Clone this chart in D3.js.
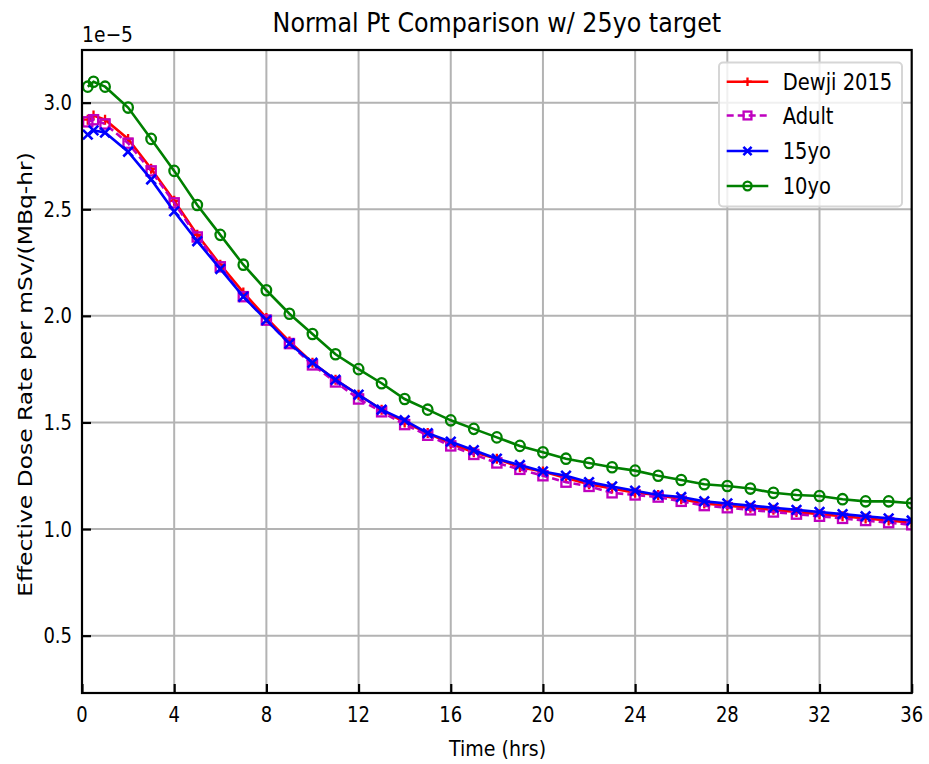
<!DOCTYPE html>
<html><head><meta charset="utf-8">
<script src="https://cdn.jsdelivr.net/npm/d3@7"></script>
<style>
body{margin:0;background:#fff;}
text{font-family:"DejaVu Sans",sans-serif;fill:#000;}
</style></head>
<body><div id="chart"></div>
<script>
const times = [0.25,0.5,1,2,3,4,5,6,7,8,9,10,11,12,13,14,15,16,17,18,19,20,21,22,23,24,25,26,27,28,29,30,31,32,33,34,35,36];
const dewji = [2.92,2.94,2.92,2.83,2.69,2.54,2.38,2.24,2.11,1.99,1.88,1.78,1.70,1.63,1.56,1.50,1.45,1.40,1.36,1.33,1.29,1.27,1.24,1.21,1.19,1.17,1.16,1.14,1.12,1.11,1.10,1.09,1.08,1.07,1.06,1.05,1.04,1.03];
const adult = [2.91,2.92,2.90,2.81,2.68,2.53,2.37,2.23,2.09,1.98,1.87,1.77,1.69,1.61,1.55,1.49,1.44,1.39,1.35,1.31,1.28,1.25,1.22,1.20,1.17,1.16,1.15,1.13,1.11,1.10,1.09,1.08,1.07,1.06,1.05,1.04,1.03,1.02];
const yo15 = [2.85,2.87,2.86,2.77,2.64,2.49,2.35,2.22,2.09,1.98,1.87,1.78,1.70,1.63,1.56,1.51,1.45,1.41,1.37,1.33,1.30,1.27,1.25,1.22,1.20,1.18,1.16,1.15,1.13,1.12,1.11,1.10,1.09,1.08,1.07,1.06,1.05,1.04];
const yo10 = [3.075,3.098,3.075,2.977,2.83,2.68,2.52,2.38,2.24,2.12,2.01,1.915,1.82,1.75,1.684,1.61,1.56,1.51,1.47,1.43,1.39,1.36,1.33,1.31,1.29,1.274,1.25,1.23,1.21,1.202,1.19,1.17,1.16,1.155,1.14,1.13,1.13,1.121];
const seriesNames = ["Dewji 2015","Adult","15yo","10yo"];
const seriesColors = ["#ff0000","#bf00bf","#0000ff","#008000"];
const seriesMarkers = ["plus","square","x","circle"];
const seriesDash = [null,"7,4",null,null];
const xTicks = [0,4,8,12,16,20,24,28,32,36];
const yTicks = [0.5,1.0,1.5,2.0,2.5,3.0];

const W=929,H=764;
const m={left:82,right:W-911.7,top:50,bottom:H-693};
const svg=d3.select("#chart").append("svg").attr("width",W).attr("height",H);
const x=d3.scaleLinear().domain([0,36]).range([m.left,W-m.right]);
const y=d3.scaleLinear().domain([0.231,3.247]).range([H-m.bottom,m.top]);

function txt(g,tx,ty,s,size,anchor,sx,sy,rot){
  return g.append("text")
    .attr("transform",`translate(${tx},${ty})${rot?" rotate("+rot+")":""} scale(${sx},${sy})`)
    .attr("text-anchor",anchor).attr("font-size",size).text(s);
}

// grid
svg.append("g").selectAll("line").data(xTicks.slice(1,-1)).join("line")
 .attr("x1",d=>x(d)).attr("x2",d=>x(d)).attr("y1",m.top).attr("y2",H-m.bottom)
 .attr("stroke","#b3b3b3").attr("stroke-width",2);
svg.append("g").selectAll("line").data(yTicks).join("line")
 .attr("y1",d=>y(d)).attr("y2",d=>y(d)).attr("x1",m.left).attr("x2",W-m.right)
 .attr("stroke","#b3b3b3").attr("stroke-width",2);

// axes (ticks inward)
const xAxis=d3.axisBottom(x).tickValues(xTicks).tickSizeInner(-9).tickSizeOuter(0).tickFormat("");
const gx=svg.append("g").attr("transform",`translate(0,${H-m.bottom})`).call(xAxis);
const yAxis=d3.axisLeft(y).tickValues(yTicks).tickSizeInner(-9).tickSizeOuter(0).tickFormat("");
const gy=svg.append("g").attr("transform",`translate(${m.left},0)`).call(yAxis);
[gx,gy].forEach(g=>{g.select(".domain").remove();g.selectAll("line").attr("stroke","#000").attr("stroke-width",2.2);});
const fx=d3.format("d"), fy=d3.format(".1f");
const tl=svg.append("g");
xTicks.forEach(t=>txt(tl,x(t),721.5,fx(t),18,"middle",1,1.2));
yTicks.forEach(t=>txt(tl,72,y(t)+7.6,fy(t),18,"end",1,1.2));

svg.append("clipPath").attr("id","clip").append("rect").attr("x",m.left).attr("y",m.top).attr("width",x(36)-m.left).attr("height",H-m.bottom-m.top);

const all=[dewji,adult,yo15,yo10];
const line=d3.line().x((d,i)=>x(times[i])).y(d=>y(d));
function marker(g,type,cx,cy,col,s){
 if(type==="plus"){g.append("path").attr("d",`M${cx-s},${cy}H${cx+s}M${cx},${cy-s}V${cy+s}`).attr("stroke",col).attr("stroke-width",2.3).attr("fill","none");}
 else if(type==="x"){g.append("path").attr("d",`M${cx-s},${cy-s}L${cx+s},${cy+s}M${cx-s},${cy+s}L${cx+s},${cy-s}`).attr("stroke",col).attr("stroke-width",2.6).attr("fill","none");}
 else if(type==="square"){g.append("rect").attr("x",cx-s).attr("y",cy-s).attr("width",2*s).attr("height",2*s).attr("stroke",col).attr("stroke-width",2.3).attr("fill","none");}
 else {g.append("ellipse").attr("cx",cx).attr("cy",cy).attr("rx",s).attr("ry",s*1.08).attr("stroke",col).attr("stroke-width",2.3).attr("fill","none");}
}
const sizes=[5,4.6,4.8,4.8];
const plot=svg.append("g").attr("clip-path","url(#clip)");
all.forEach((vals,k)=>{
 const g=plot.append("g");
 g.append("path").datum(vals).attr("d",line).attr("fill","none").attr("stroke",seriesColors[k]).attr("stroke-width",2.6)
  .attr("stroke-dasharray",seriesDash[k]);
 vals.forEach((v,i)=>marker(g,seriesMarkers[k],x(times[i]),y(v),seriesColors[k],sizes[k]));
});

// frame
svg.append("rect").attr("x",m.left).attr("y",m.top).attr("width",x(36)-m.left).attr("height",H-m.bottom-m.top)
 .attr("fill","none").attr("stroke","#000").attr("stroke-width",2.2);

// legend
const lg=svg.append("g");
lg.append("rect").attr("x",719).attr("y",62.5).attr("width",183).attr("height",144).attr("rx",4)
 .attr("fill","rgba(255,255,255,0.8)").attr("stroke","#d6d6d6").attr("stroke-width",2);
const rowY=[81.7,115.5,151,186];
seriesNames.forEach((n,k)=>{
 const ry=rowY[k];
 lg.append("line").attr("x1",726.7).attr("x2",768.3).attr("y1",ry).attr("y2",ry).attr("stroke",seriesColors[k]).attr("stroke-width",2.6).attr("stroke-dasharray",seriesDash[k]);
 marker(lg,seriesMarkers[k],747.5,ry,seriesColors[k],sizes[k]*0.85);
 txt(lg,782.7,ry+8.2,n,19.5,"start",1,1.15);
});

// titles
txt(svg,(m.left+x(36))/2,31.7,"Normal Pt Comparison w/ 25yo target",23.8,"middle",1,1.15);
txt(svg,82,41.7,"1e\u22125",18.7,"start",1,1.15);
txt(svg,497.5,756,"Time (hrs)",19,"middle",1,1.15);
txt(svg,32,374.5,"Effective Dose Rate per mSv/(MBq-hr)",20,"middle",1.17,1,-90);
</script></body></html>
